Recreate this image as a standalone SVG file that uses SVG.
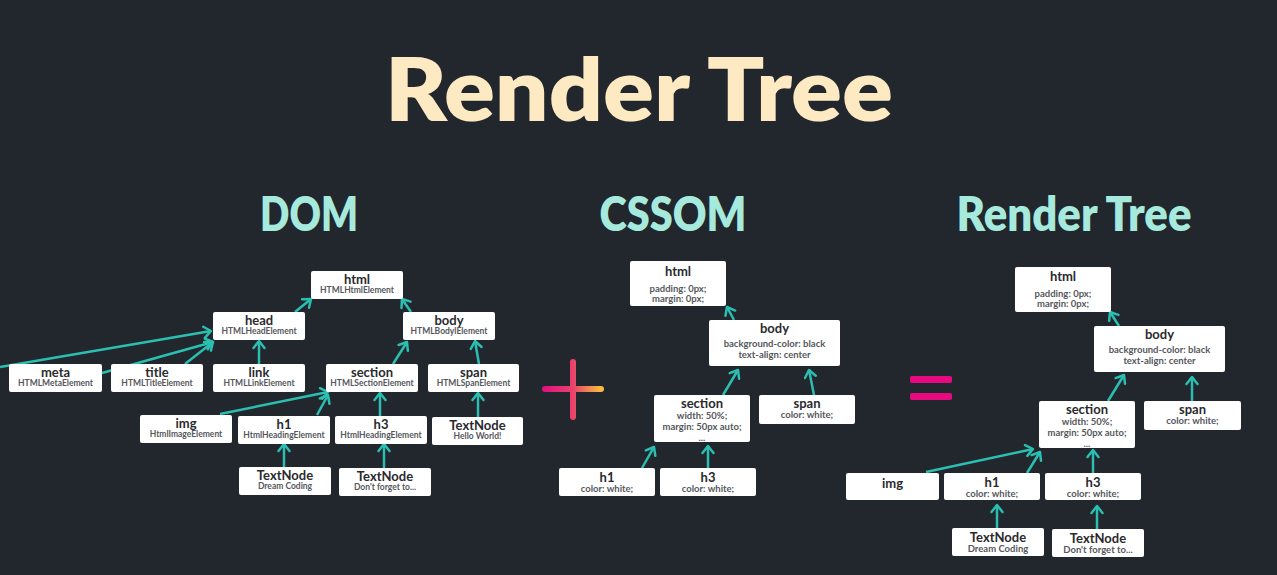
<svg xmlns="http://www.w3.org/2000/svg" width="1277" height="575" viewBox="0 0 1277 575">
<defs>
<style>
.bg{fill:#22262d}
.n rect{fill:#ffffff;rx:2px}
.t{font-family:Lato,"Noto Sans",sans-serif;font-weight:700;font-size:13px;fill:#2a2a2e;text-anchor:middle}
.s{font-family:Lato,"Noto Sans",sans-serif;font-weight:700;font-size:8.5px;fill:#55575c;text-anchor:middle}
.c{font-family:Lato,"Noto Sans",sans-serif;font-weight:700;font-size:9.5px;fill:#55575c;text-anchor:middle}
.h{font-family:Lato,"Noto Sans",sans-serif;font-weight:800;text-anchor:middle}
.e line{stroke:#2bbfb1;stroke-width:2.5;marker-end:url(#a)}
</style>
<marker id="a" viewBox="-10 -7 12 14" refX="0" refY="0" markerWidth="12" markerHeight="14" orient="auto" markerUnits="userSpaceOnUse">
<path d="M-7,-5.5 L0,0 L-7,5.5" fill="none" stroke="#2bbfb1" stroke-width="2.5" stroke-linecap="round" stroke-linejoin="round"/>
</marker>
<linearGradient id="pg" gradientUnits="userSpaceOnUse" x1="545" y1="0" x2="601" y2="0">
<stop offset="0" stop-color="#e0137f"/>
<stop offset="0.5" stop-color="#e9426c"/>
<stop offset="1" stop-color="#f6bd3e"/>
</linearGradient>
</defs>
<rect class="bg" x="0" y="0" width="1277" height="575"/>

<text class="h" x="639" y="121" font-size="88" fill="#fde9c2" textLength="508" lengthAdjust="spacingAndGlyphs">Render Tree</text>
<text class="h" x="309" y="231" font-size="47" fill="#a6e9dd" textLength="98" lengthAdjust="spacingAndGlyphs">DOM</text>
<text class="h" x="673" y="231" font-size="47" fill="#a6e9dd" textLength="147" lengthAdjust="spacingAndGlyphs">CSSOM</text>
<text class="h" x="1074" y="231" font-size="47" fill="#a6e9dd" textLength="235" lengthAdjust="spacingAndGlyphs">Render Tree</text>

<!-- plus and equals -->
<g id="plus">
<line x1="573" y1="362" x2="573" y2="417" stroke="url(#pg)" stroke-width="6" stroke-linecap="round"/>
<line x1="545" y1="389" x2="601" y2="389" stroke="url(#pg)" stroke-width="6" stroke-linecap="round"/>
</g>
<g id="equals" fill="#e6097f">
<rect x="910" y="376" width="42" height="7" rx="2"/>
<rect x="910" y="393" width="42" height="7" rx="2"/>
</g>

<!-- connectors -->
<g class="e" id="connectors">
<!-- DOM -->
<line x1="295" y1="312" x2="311" y2="299"/>
<line x1="411" y1="312" x2="402" y2="299"/>
<line x1="259" y1="364" x2="259" y2="341"/>
<line x1="185" y1="364" x2="213" y2="342"/>
<line x1="102" y1="373" x2="213" y2="342"/>
<line x1="0" y1="367" x2="211" y2="331"/>
<line x1="393" y1="364" x2="407" y2="342"/>
<line x1="479" y1="364" x2="475" y2="341"/>
<line x1="220" y1="414" x2="328" y2="392"/>
<line x1="317" y1="415" x2="328" y2="395"/>
<line x1="380" y1="416" x2="380" y2="393"/>
<line x1="478" y1="417" x2="478" y2="393"/>
<line x1="284" y1="467" x2="284" y2="444"/>
<line x1="384" y1="468" x2="384" y2="444"/>
<!-- CSSOM -->
<line x1="734" y1="320" x2="727" y2="307"/>
<line x1="723" y1="395" x2="738" y2="370"/>
<line x1="814" y1="395" x2="809" y2="370"/>
<line x1="642" y1="468" x2="654" y2="447"/>
<line x1="708" y1="468" x2="708" y2="446"/>
<!-- Render tree -->
<line x1="1119" y1="326" x2="1110" y2="312"/>
<line x1="1108" y1="401" x2="1124" y2="375"/>
<line x1="1192" y1="401" x2="1192" y2="377"/>
<line x1="926" y1="472" x2="1033" y2="449"/>
<line x1="1027" y1="473" x2="1040" y2="452"/>
<line x1="1093" y1="473" x2="1093" y2="450"/>
<line x1="997" y1="528" x2="997" y2="505"/>
<line x1="1097" y1="529" x2="1097" y2="506"/>
</g>

<!-- DOM nodes -->
<g id="dom-html" class="n"><rect x="311" y="271" width="92" height="28"/><text class="t" x="357" y="284">html</text><text class="s" x="357" y="293">HTMLHtmlElement</text></g>
<g id="dom-head" class="n"><rect x="213" y="312" width="92" height="28"/><text class="t" x="259" y="325">head</text><text class="s" x="259" y="334">HTMLHeadElement</text></g>
<g id="dom-body" class="n"><rect x="403" y="312" width="92" height="28"/><text class="t" x="449" y="325">body</text><text class="s" x="449" y="334">HTMLBodylElement</text></g>
<g id="dom-meta" class="n"><rect x="9" y="364" width="93" height="28"/><text class="t" x="55.5" y="377">meta</text><text class="s" x="55.5" y="386">HTMLMetaElement</text></g>
<g id="dom-title" class="n"><rect x="111" y="364" width="92" height="28"/><text class="t" x="157" y="377">title</text><text class="s" x="157" y="386">HTMLTitleElement</text></g>
<g id="dom-link" class="n"><rect x="213" y="364" width="92" height="28"/><text class="t" x="259" y="377">link</text><text class="s" x="259" y="386">HTMLLinkElement</text></g>
<g id="dom-section" class="n"><rect x="326" y="364" width="92" height="28"/><text class="t" x="372" y="377">section</text><text class="s" x="372" y="386">HTMLSectionElement</text></g>
<g id="dom-span" class="n"><rect x="428" y="364" width="91" height="28"/><text class="t" x="473.5" y="377">span</text><text class="s" x="473.5" y="386">HTMLSpanElement</text></g>
<g id="dom-img" class="n"><rect x="140" y="415" width="92" height="28"/><text class="t" x="186" y="428">img</text><text class="s" x="186" y="437">HtmlImageElement</text></g>
<g id="dom-h1" class="n"><rect x="238" y="416" width="92" height="28"/><text class="t" x="284" y="429">h1</text><text class="s" x="284" y="438">HtmlHeadingElement</text></g>
<g id="dom-h3" class="n"><rect x="335" y="416" width="92" height="28"/><text class="t" x="381" y="429">h3</text><text class="s" x="381" y="438">HtmlHeadingElement</text></g>
<g id="dom-text-hello" class="n"><rect x="432" y="417" width="91" height="28"/><text class="t" x="477.5" y="430">TextNode</text><text class="s" x="477.5" y="439">Hello World!</text></g>
<g id="dom-text-dream" class="n"><rect x="239" y="467" width="92" height="28"/><text class="t" x="285" y="480">TextNode</text><text class="s" x="285" y="489">Dream Coding</text></g>
<g id="dom-text-dont" class="n"><rect x="339" y="468" width="92" height="28"/><text class="t" x="385" y="481">TextNode</text><text class="s" x="385" y="490">Don't forget to...</text></g>

<!-- CSSOM nodes -->
<g id="css-html" class="n"><rect x="630" y="261" width="96" height="45"/><text class="t" x="678" y="276">html</text><text class="c" x="678" y="292">padding: 0px;</text><text class="c" x="678" y="302">margin: 0px;</text></g>
<g id="css-body" class="n"><rect x="709" y="320" width="131" height="46"/><text class="t" x="774.5" y="333">body</text><text class="c" x="774.5" y="347">background-color: black</text><text class="c" x="774.5" y="358">text-align: center</text></g>
<g id="css-section" class="n"><rect x="654" y="395" width="96" height="47"/><text class="t" x="702" y="408">section</text><text class="c" x="702" y="419">width: 50%;</text><text class="c" x="702" y="430">margin: 50px auto;</text><text class="c" x="702" y="441">...</text></g>
<g id="css-span" class="n"><rect x="759" y="395" width="96" height="29"/><text class="t" x="807" y="408">span</text><text class="c" x="807" y="418">color: white;</text></g>
<g id="css-h1" class="n"><rect x="559" y="468" width="96" height="28"/><text class="t" x="607" y="482">h1</text><text class="c" x="607" y="492">color: white;</text></g>
<g id="css-h3" class="n"><rect x="660" y="468" width="96" height="28"/><text class="t" x="708" y="482">h3</text><text class="c" x="708" y="492">color: white;</text></g>

<!-- Render tree nodes -->
<g id="rt-html" class="n"><rect x="1015" y="267" width="96" height="45"/><text class="t" x="1063" y="281">html</text><text class="c" x="1063" y="297">padding: 0px;</text><text class="c" x="1063" y="307">margin: 0px;</text></g>
<g id="rt-body" class="n"><rect x="1094" y="326" width="131" height="46"/><text class="t" x="1159.5" y="339">body</text><text class="c" x="1159.5" y="353">background-color: black</text><text class="c" x="1159.5" y="364">text-align: center</text></g>
<g id="rt-section" class="n"><rect x="1039" y="401" width="96" height="47"/><text class="t" x="1087" y="414">section</text><text class="c" x="1087" y="425">width: 50%;</text><text class="c" x="1087" y="436">margin: 50px auto;</text><text class="c" x="1087" y="447">...</text></g>
<g id="rt-span" class="n"><rect x="1144" y="401" width="97" height="29"/><text class="t" x="1192.5" y="414">span</text><text class="c" x="1192.5" y="424">color: white;</text></g>
<g id="rt-img" class="n"><rect x="846" y="473" width="93" height="27"/><text class="t" x="892.5" y="488">img</text></g>
<g id="rt-h1" class="n"><rect x="944" y="473" width="96" height="27"/><text class="t" x="992" y="487">h1</text><text class="c" x="992" y="497">color: white;</text></g>
<g id="rt-h3" class="n"><rect x="1045" y="473" width="96" height="27"/><text class="t" x="1093" y="487">h3</text><text class="c" x="1093" y="497">color: white;</text></g>
<g id="rt-text-dream" class="n"><rect x="952" y="528" width="92" height="28"/><text class="t" x="998" y="542">TextNode</text><text class="c" x="998" y="552">Dream Coding</text></g>
<g id="rt-text-dont" class="n"><rect x="1052" y="529" width="92" height="28"/><text class="t" x="1098" y="543">TextNode</text><text class="c" x="1098" y="553">Don't forget to...</text></g>
</svg>
